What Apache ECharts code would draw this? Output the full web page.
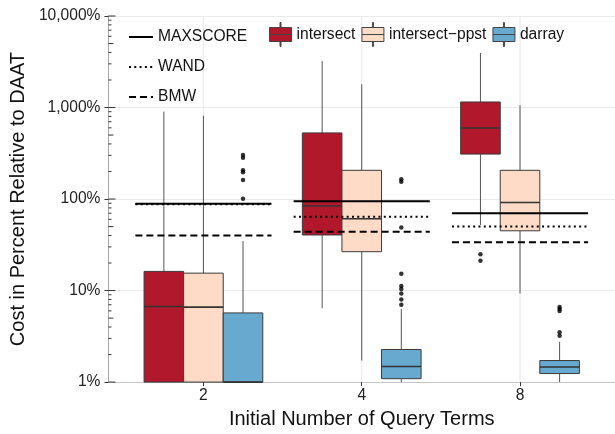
<!DOCTYPE html>
<html>
<head>
<meta charset="utf-8">
<script src="https://cdn.jsdelivr.net/npm/echarts@6/dist/echarts.min.js"></script>
<style>
  html, body { margin: 0; padding: 0; background: #fff; }
  #chart { width: 615px; height: 434px; }
</style>
</head>
<body>
<div id="chart"></div>
<script>
// x categories (initial number of query terms)
const queryTerms = ['2', '4', '8']

// box stats per group: [lower whisker, Q1, median, Q3, upper whisker], in %
const intersectStats = [
  [0.1, 0.5, 6.7, 16.2, 902],
  [6.4, 40.5, 84, 528, 3214],
  [52, 310, 597, 1150, 3944]
]
const ppstStats = [
  [0.1, 0.5, 6.6, 15.5, 813],
  [1.72, 26.6, 61, 206, 1795],
  [9.3, 45, 91.8, 206, 1061]
]
const darrayStats = [
  [0.05, 0.2, 0.8, 5.7, 34.8],
  [0.9, 1.09, 1.48, 2.27, 6.3],
  [1.0, 1.24, 1.46, 1.72, 2.76]
]

// outliers per group
const intersectOutliers = [[], [], [24.9, 21.2]]
const ppstOutliers = [[], [], []]
const darrayOutliers = [
  [302, 283, 206, 196, 161, 101],
  [165, 155, 48.9, 15.3, 11.2, 10.4, 9.3, 8.0, 7.0],
  [6.6, 6.3, 6.0, 3.5, 3.2]
]

// reference algorithms, one value per group
const maxscore = [89, 94.8, 69.8]
const wand = [87.5, 64, 50]
const bmw = [40, 44, 33.7]

// y axis
const yTicks = [1, 10, 100, 1000, 10000]
const logMultipliers = [2, 3, 4, 5, 6, 7, 8, 9]

const FONT = "'Liberation Sans', Arial, sans-serif"
const BOX_W = 0.25
const LINE_HALF = 0.43

const boxSeries = [
  { name: 'intersect', stats: intersectStats, outliers: intersectOutliers, offset: -0.25, color: '#B2182B' },
  { name: 'intersect\u2212ppst', stats: ppstStats, outliers: ppstOutliers, offset: 0, color: '#FDDBC7' },
  { name: 'darray', stats: darrayStats, outliers: darrayOutliers, offset: 0.25, color: '#67A9CF' }
]

const chart = echarts.init(document.getElementById('chart'))

function boxRenderer(offset, color) {
  return function (params, api) {
    const cs = params.coordSys
    const clampY = y => Math.max(cs.y, Math.min(cs.y + cs.height, y))
    const g = api.value(0)
    const xc = api.coord([g + offset, 1])[0]
    const half = api.coord([g + offset + BOX_W / 2, 1])[0] - xc
    const y = i => clampY(api.coord([g, api.value(i)])[1])
    const yLow = y(1), yQ1 = y(2), yMed = y(3), yQ3 = y(4), yHigh = y(5)
    return {
      type: 'group',
      children: [
        { type: 'line', shape: { x1: xc, y1: yHigh, x2: xc, y2: yQ3 }, style: { stroke: '#555', lineWidth: 1 } },
        { type: 'line', shape: { x1: xc, y1: yQ1, x2: xc, y2: yLow }, style: { stroke: '#555', lineWidth: 1 } },
        { type: 'rect', shape: { x: xc - half, y: yQ3, width: half * 2, height: yQ1 - yQ3 },
          style: { fill: color, stroke: '#3a3a3a', lineWidth: 1 } },
        { type: 'line', shape: { x1: xc - half, y1: yMed, x2: xc + half, y2: yMed },
          style: { stroke: '#333', lineWidth: 1.6 } }
      ]
    }
  }
}

function segments(values) {
  const out = []
  values.forEach((v, i) => {
    if (i > 0) out.push([i + 0.5, '-'])
    out.push([i + 1 - LINE_HALF, v], [i + 1 + LINE_HALF, v])
  })
  return out
}

const logTickValues = []
yTicks.forEach(t => {
  logTickValues.push([t, 2])
  if (t < 10000) logMultipliers.forEach(m => logTickValues.push([t * m, m === 5 ? 1 : 0]))
})
const tickLen = [3, 5, 7]

const series = [
  // vertical grid lines at categories
  {
    type: 'custom',
    silent: true,
    z: 1,
    data: queryTerms.map((t, i) => [i + 1]),
    encode: { x: 0 },
    renderItem: (params, api) => {
      const cs = params.coordSys
      const x = api.coord([api.value(0), 1])[0]
      return { type: 'line', shape: { x1: x, y1: cs.y, x2: x, y2: cs.y + cs.height },
        style: { stroke: '#ebebeb', lineWidth: 1.2 } }
    }
  },
  // log ticks along the y axis
  {
    type: 'custom',
    silent: true,
    z: 6,
    data: logTickValues.map(d => [0.4, d[0], d[1]]),
    encode: { x: 0, y: 1 },
    renderItem: (params, api) => {
      const cs = params.coordSys
      const yy = api.coord([0.4, api.value(1)])[1]
      const len = tickLen[api.value(2)]
      return { type: 'line', shape: { x1: cs.x, y1: yy, x2: cs.x + len, y2: yy },
        style: { stroke: '#333', lineWidth: 1 } }
    }
  }
]

boxSeries.forEach(b => {
  series.push({
    name: b.name,
    type: 'custom',
    z: 3,
    itemStyle: { color: b.color },
    data: b.stats.map((s, i) => [i + 1, ...s]),
    encode: { x: 0, y: [1, 2, 3, 4, 5] },
    renderItem: boxRenderer(b.offset, b.color)
  })
})

boxSeries.forEach(b => {
  const pts = []
  b.outliers.forEach((arr, i) => arr.forEach(v => pts.push([i + 1 + b.offset, v])))
  if (!pts.length) return
  series.push({
    name: b.name,
    type: 'scatter',
    z: 4,
    symbolSize: 4.5,
    itemStyle: { color: '#000' },
    data: pts
  })
})

const refLines = [
  { name: 'MAXSCORE', values: maxscore, type: 'solid' },
  { name: 'WAND', values: wand, type: [2, 3.3] },
  { name: 'BMW', values: bmw, type: [7, 4] }
]
refLines.forEach(r => {
  series.push({
    name: r.name,
    type: 'line',
    z: 5,
    symbol: 'none',
    connectNulls: false,
    lineStyle: { color: '#000', width: 2, type: r.type },
    itemStyle: { color: '#000' },
    data: segments(r.values)
  })
})

const boxIcon = 'path://M0,5H22V12H0Z M0,12H22V19H0Z M10.5,0H11.5V5H10.5Z M10.5,19H11.5V24H10.5Z'

chart.setOption({
  animation: false,
  backgroundColor: '#fff',
  textStyle: { fontFamily: FONT },
  grid: { left: 100, right: -3, top: 16, bottom: 40 },
  legend: [
    {
      orient: 'vertical',
      left: 128,
      top: 29,
      padding: 0,
      itemWidth: 24,
      itemHeight: 14,
      itemGap: 14,
      selectedMode: false,
      data: refLines.map(r => ({
        name: r.name,
        itemStyle: { color: 'rgba(0,0,0,0)', borderColor: 'rgba(0,0,0,0)', borderWidth: 0 }
      })),
      textStyle: { fontFamily: FONT, fontSize: 15.6, color: '#111' }
    },
    {
      orient: 'horizontal',
      left: 269,
      top: 22,
      padding: 0,
      itemWidth: 22,
      itemHeight: 24,
      itemGap: 6,
      selectedMode: false,
      data: boxSeries.map(b => ({
        name: b.name,
        icon: boxIcon,
        itemStyle: { color: b.color, borderColor: '#444', borderWidth: 1 }
      })),
      textStyle: { fontFamily: FONT, fontSize: 15.6, color: '#111' }
    }
  ],
  xAxis: {
    type: 'value',
    min: 0.4,
    max: 3.6,
    name: 'Initial Number of Query Terms',
    nameLocation: 'middle',
    nameGap: 17,
    nameTextStyle: { fontFamily: FONT, fontSize: 20, color: '#111' },
    axisLine: { show: true, lineStyle: { color: '#c4c4c4', width: 1 } },
    axisTick: { show: true, customValues: [1, 2, 3], length: 4, lineStyle: { color: '#333' } },
    axisLabel: {
      customValues: [1, 2, 3],
      margin: 6,
      fontSize: 15.6,
      color: '#222',
      formatter: v => queryTerms[Math.round(v) - 1] || ''
    },
    splitLine: { show: false }
  },
  yAxis: {
    type: 'log',
    logBase: 10,
    min: 1,
    max: 10000,
    name: 'Cost in Percent Relative to DAAT',
    nameLocation: 'middle',
    nameGap: 68,
    nameTextStyle: { fontFamily: FONT, fontSize: 20, color: '#111' },
    axisLine: { show: true, lineStyle: { color: '#a8a8a8', width: 1 } },
    axisTick: { show: true, length: 4, lineStyle: { color: '#333' } },
    axisLabel: {
      margin: 8,
      fontSize: 15.6,
      color: '#222',
      formatter: v => Math.round(v).toLocaleString('en-US') + '%'
    },
    splitLine: { show: true, lineStyle: { color: '#ebebeb', width: 1.2 } },
    minorTick: { show: false }
  },
  series: series
})
</script>
</body>
</html>
